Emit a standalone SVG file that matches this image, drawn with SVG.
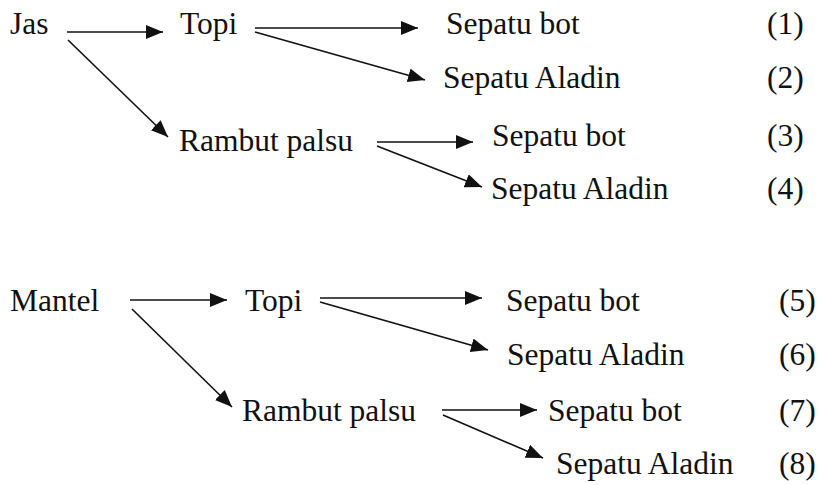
<svg xmlns="http://www.w3.org/2000/svg" width="819" height="485" viewBox="0 0 819 485">
<style>
text{font-family:"Liberation Serif","Times New Roman",serif;font-size:31.5px;fill:#111}
.c line{stroke:#111;stroke-width:1.6;marker-end:url(#ah)}
</style>
<defs>
<marker id="ah" markerUnits="userSpaceOnUse" markerWidth="20" markerHeight="16" refX="17" refY="7" orient="auto">
<path d="M0,0 L17,7 L0,14 Z" fill="#111"/>
</marker>
</defs>
<rect width="819" height="485" fill="#fff"/>
<g id="jas"><text x="10" y="34">Jas</text></g>
<g id="topi1"><text x="180" y="34">Topi</text></g>
<g id="bot1"><text x="446" y="34">Sepatu bot</text><text x="767" y="34">(1)</text></g>
<g id="aladin2"><text x="443" y="88">Sepatu Aladin</text><text x="767" y="88">(2)</text></g>
<g id="rambut1"><text x="179" y="151">Rambut palsu</text></g>
<g id="bot3"><text x="492" y="146">Sepatu bot</text><text x="767" y="146">(3)</text></g>
<g id="aladin4"><text x="491" y="199">Sepatu Aladin</text><text x="767" y="199">(4)</text></g>
<g id="mantel"><text x="10" y="311">Mantel</text></g>
<g id="topi2"><text x="245" y="311">Topi</text></g>
<g id="bot5"><text x="506" y="311">Sepatu bot</text><text x="779" y="311">(5)</text></g>
<g id="aladin6"><text x="507" y="365">Sepatu Aladin</text><text x="779" y="365">(6)</text></g>
<g id="rambut2"><text x="242" y="421">Rambut palsu</text></g>
<g id="bot7"><text x="548" y="421">Sepatu bot</text><text x="779" y="421">(7)</text></g>
<g id="aladin8"><text x="556" y="474">Sepatu Aladin</text><text x="779" y="474">(8)</text></g>
<g id="connectors" class="c">
<line x1="67" y1="32" x2="163" y2="32"/>
<line x1="68" y1="40" x2="168" y2="137"/>
<line x1="255" y1="28" x2="418" y2="28"/>
<line x1="255" y1="32" x2="425" y2="80"/>
<line x1="377" y1="142" x2="473" y2="142"/>
<line x1="377" y1="146" x2="482" y2="187"/>
<line x1="130" y1="300" x2="227" y2="300"/>
<line x1="132" y1="309" x2="232" y2="407"/>
<line x1="320" y1="298" x2="482" y2="298"/>
<line x1="320" y1="302" x2="488" y2="350"/>
<line x1="442" y1="410" x2="537" y2="410"/>
<line x1="443" y1="415" x2="543" y2="458"/>
</g>
</svg>
